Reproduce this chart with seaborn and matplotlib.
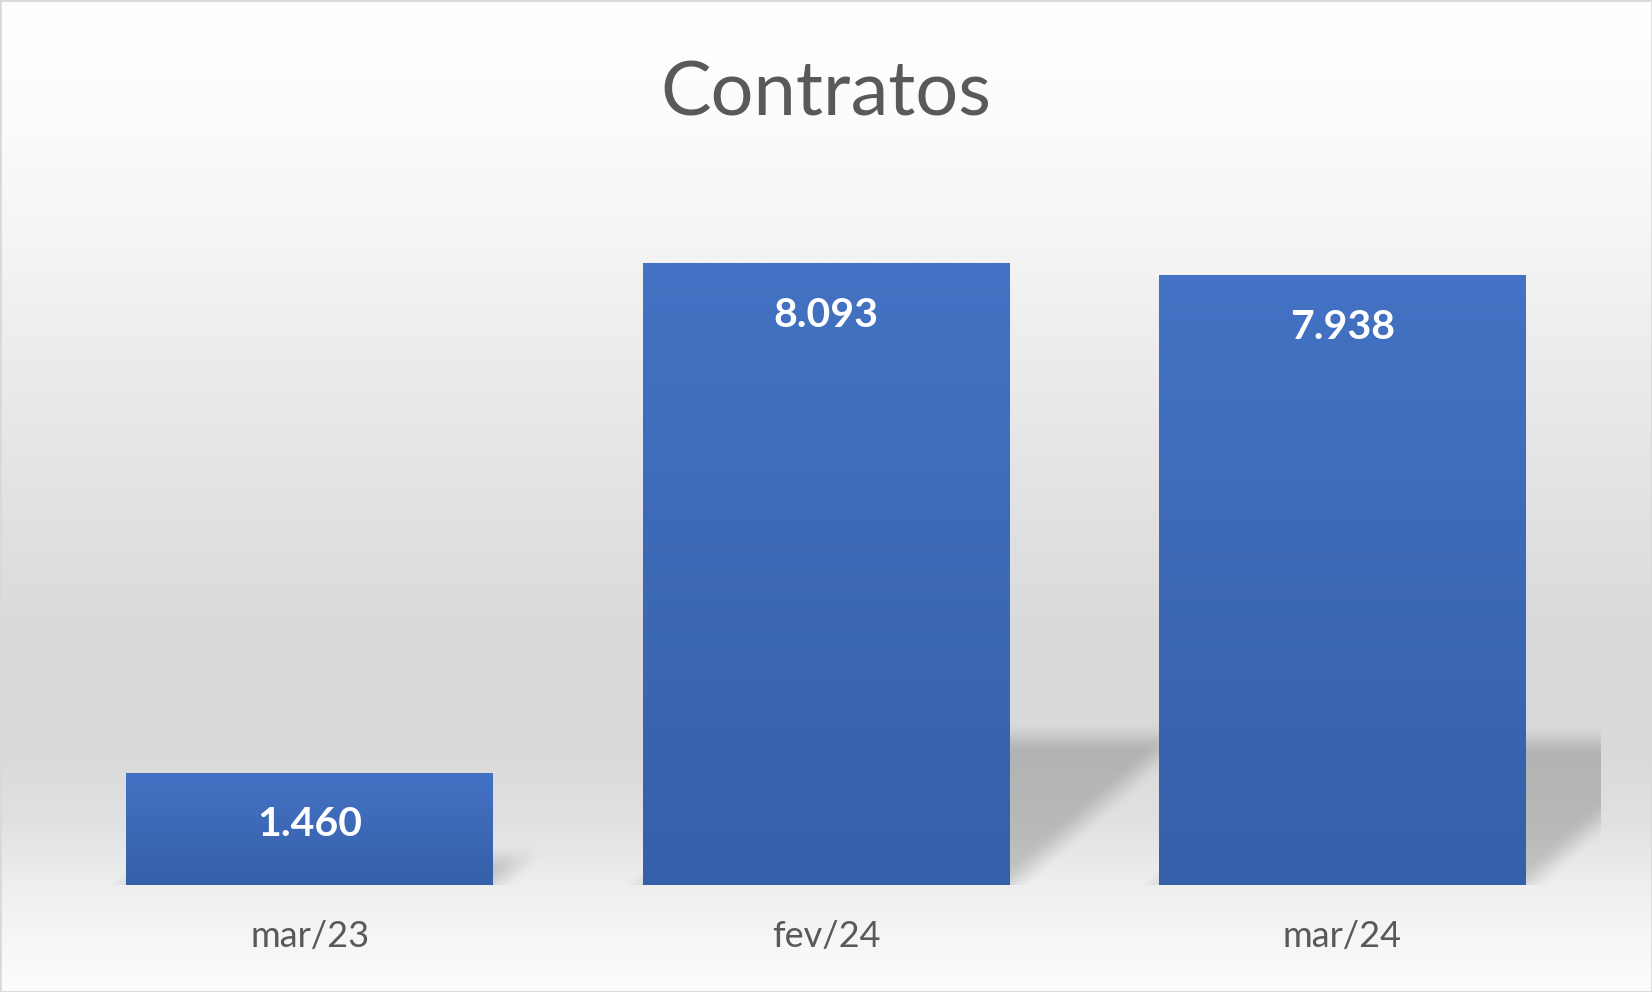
import numpy as np
import pandas as pd
import seaborn as sns
import matplotlib.pyplot as plt
from matplotlib.colors import LinearSegmentedColormap
from matplotlib.patches import Rectangle

meses = ["mar/23", "fev/24", "mar/24"]
contratos = [1460, 8093, 7938]
rotulos = ["1.460", "8.093", "7.938"]

W, H = 1652, 992
Y_MAX = 9000

sns.set_style("white")
plt.rcParams['font.family'] = ['Lato', 'DejaVu Sans']

fig = plt.figure(figsize=(W / 100, H / 100), dpi=100)

# fundo em degradê (branco -> cinza -> branco)
bg = fig.add_axes([0, 0, 1, 1], zorder=-10)
stops_y = [0.0, 0.12, 0.25, 0.45, 0.62, 0.75, 0.83, 0.89, 0.95, 1.0]
stops_v = [255, 252, 244, 230, 219, 217, 225, 238, 247, 252]
col = np.interp(np.linspace(0, 1, H), stops_y, stops_v) / 255.0
bg_img = np.repeat(col[:, None, None], 3, axis=2)
bg.imshow(bg_img, aspect='auto', extent=(0, 1, 0, 1), origin='upper')
bg.set_axis_off()

ax = fig.add_axes([49 / 1568, 1 - 840 / 942, (1519 - 49) / 1568, 656 / 942])
ax.patch.set_alpha(0)

df = pd.DataFrame({"mes": meses, "contratos": contratos})
sns.barplot(data=df, x="mes", y="contratos", color="#4472c4", saturation=1,
            width=0.71, ax=ax, zorder=2, linewidth=0, edgecolor="none")

xlim = (-0.5, 2.5)
ax.set_xlim(*xlim)
ax.set_ylim(0, Y_MAX)

bars = list(ax.patches)

# sombra em perspectiva atrás das barras
pos = ax.get_position()
axw = int(round(pos.width * W))
axh = int(round(pos.height * H))
gx = np.arange(axw) + 0.5
gy = np.arange(axh) + 0.5
GX, GY = np.meshgrid(gx, gy)
alpha = np.zeros_like(GX)
soft = 16.0


def smooth(d):
    t = np.clip((d + soft) / (2 * soft), 0, 1)
    return t * t * (3 - 2 * t)


for p in bars:
    xl = (p.get_x() - xlim[0]) / (xlim[1] - xlim[0]) * axw
    xr = (p.get_x() + p.get_width() - xlim[0]) / (xlim[1] - xlim[0]) * axw
    h_px = p.get_height() / Y_MAX * axh
    sh = 0.237 * h_px
    skew = 1.14 * sh
    norm = sh / np.hypot(sh, skew)
    d_top = sh - GY
    d_right = (xr + skew * GY / sh - GX) * norm
    d_left = (GX - xl - skew * GY / sh) * norm
    a = smooth(d_top) * smooth(d_right) * smooth(d_left)
    alpha = np.maximum(alpha, a)

shadow = np.zeros((axh, axw, 4))
shadow[..., 3] = 0.18 * alpha
ax.imshow(shadow, extent=(xlim[0], xlim[1], 0, Y_MAX), origin='lower',
          aspect='auto', zorder=1)

# preenchimento em degradê das barras
bar_cmap = LinearSegmentedColormap.from_list("barra", ["#3560a9", "#4472c4"])
grad = np.linspace(0, 1, 256).reshape(-1, 1)
for p in bars:
    x0 = p.get_x()
    im = ax.imshow(grad, cmap=bar_cmap, extent=(x0, x0 + p.get_width(), 0, p.get_height()),
                   origin='lower', aspect='auto', zorder=3)
    im.set_clip_path(p)

for p, txt in zip(bars, rotulos):
    ax.annotate(txt, (p.get_x() + p.get_width() / 2, p.get_height()),
                xytext=(0, -46), textcoords='offset points', ha='center', va='baseline',
                color='white', fontsize=29.5, fontweight='bold', zorder=5)

ax.set_xlim(*xlim)
ax.set_ylim(0, Y_MAX)
ax.set_xlabel("")
ax.set_ylabel("")
ax.set_yticks([])
sns.despine(ax=ax, left=True, bottom=True)
ax.tick_params(axis='x', length=0, pad=45, labelsize=26, labelcolor='#595959')
for t in ax.get_xticklabels():
    t.set_va('baseline')

fig.text(0.5, 1 - 115 / 992, "Contratos", ha='center', va='baseline',
         fontsize=54.5, color='#595959')

fig.patches.append(Rectangle((0, 0), 1, 1, transform=fig.transFigure, fill=False,
                             edgecolor='#d9d9d9', linewidth=2))

fig.savefig("out.png", dpi=100)
